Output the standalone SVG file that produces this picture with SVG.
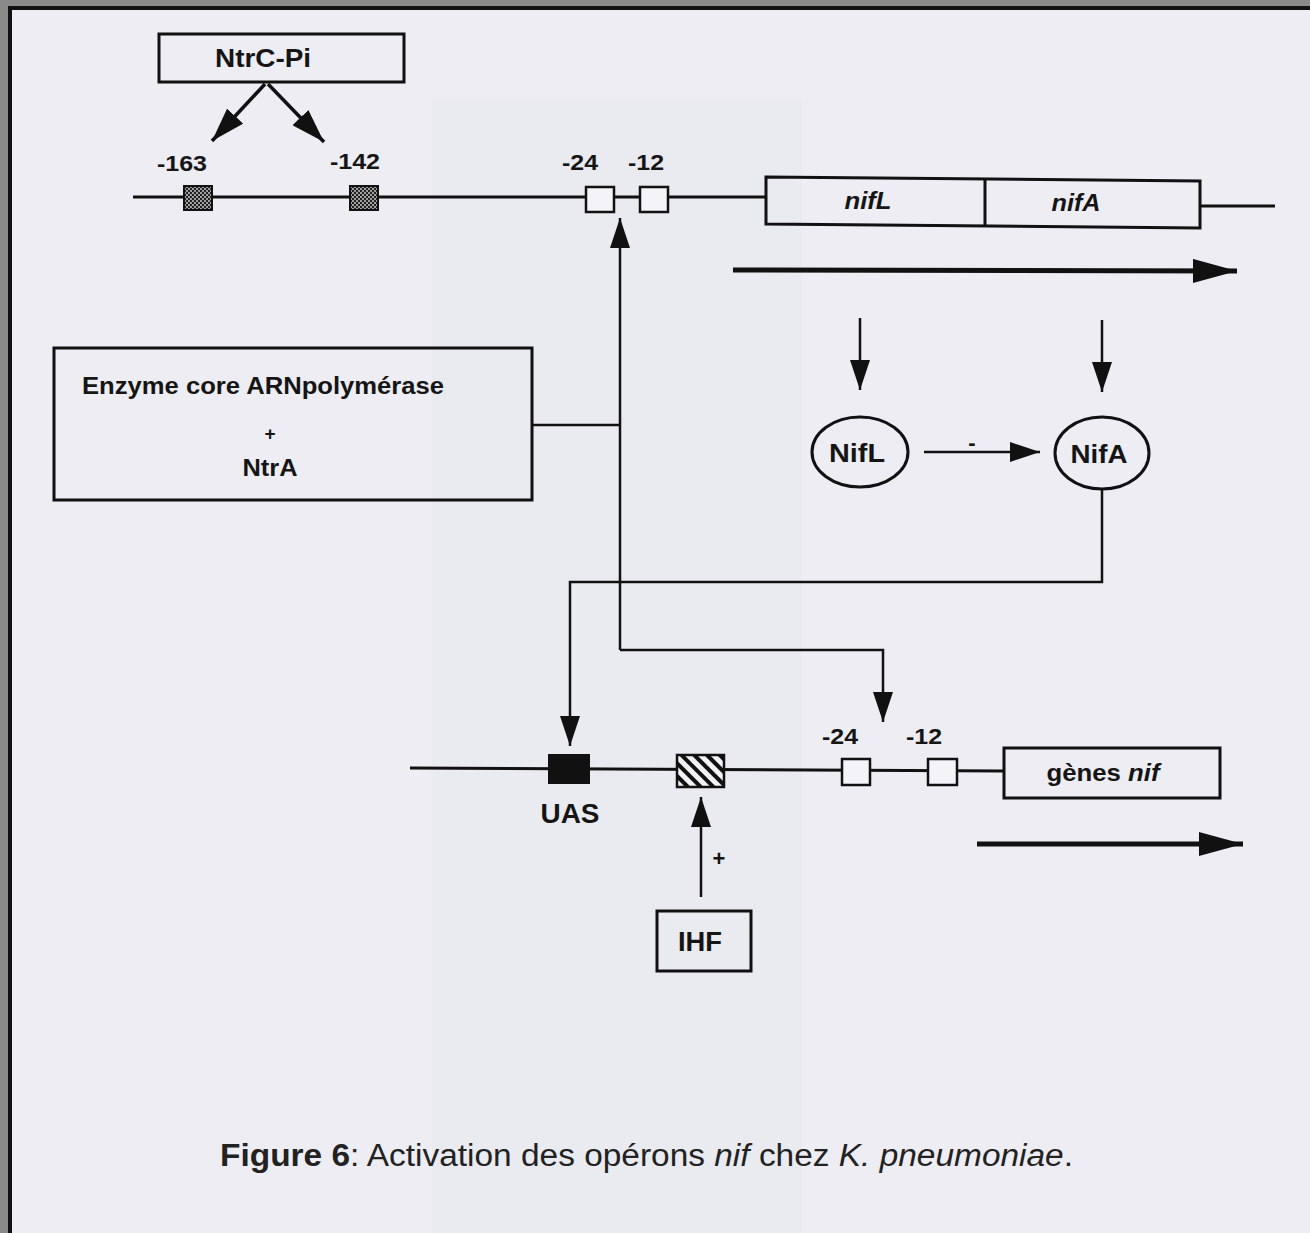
<svg xmlns="http://www.w3.org/2000/svg" width="1310" height="1233" viewBox="0 0 1310 1233">
<defs>
<marker id="ahs" viewBox="0 0 30 20" refX="30" refY="10" markerWidth="30" markerHeight="20" markerUnits="userSpaceOnUse" orient="auto">
<path d="M0,0 L30,10 L0,20 z" fill="#111"/>
</marker>
<marker id="ahm" viewBox="0 0 34 22" refX="34" refY="11" markerWidth="34" markerHeight="22" markerUnits="userSpaceOnUse" orient="auto">
<path d="M0,0 L34,11 L0,22 z" fill="#111"/>
</marker>
<marker id="ahb" viewBox="0 0 44 24" refX="44" refY="12" markerWidth="44" markerHeight="24" markerUnits="userSpaceOnUse" orient="auto">
<path d="M0,0 L44,12 L0,24 z" fill="#111"/>
</marker>
<pattern id="stip" width="4" height="4" patternUnits="userSpaceOnUse">
<rect width="4" height="4" fill="#222"/>
<circle cx="1" cy="1" r="0.9" fill="#ddd"/>
<circle cx="3" cy="3" r="0.9" fill="#ddd"/>
</pattern>
<pattern id="hatch" width="9" height="9" patternUnits="userSpaceOnUse" patternTransform="rotate(-45)">
<rect width="9" height="9" fill="#f2f2f6"/>
<rect x="0" y="0" width="4" height="9" fill="#111"/>
</pattern>
</defs>
<style>
.ln{stroke:#111;stroke-width:2.5;fill:none}
.thick{stroke-width:5}
.mid{stroke-width:3.5}
.dna{stroke:#111;stroke-width:3;fill:none}
.box{stroke:#111;stroke-width:3;fill:none}
.ebox{stroke:#111;stroke-width:2.5;fill:#f3f3f8}
.t{font-family:"Liberation Sans",Arial,sans-serif;font-weight:bold;fill:#151515}
.lbl{font-size:22px;text-anchor:middle}
.cap{font-family:"Liberation Sans",Arial,sans-serif;font-size:31px;fill:#222}
</style>
<rect width="1310" height="1233" fill="#8a8a8a"/>
<rect x="8" y="6" width="1302" height="1227" fill="#111"/>
<rect x="12" y="10" width="1298" height="1223" fill="#ededf3"/>
<rect x="432" y="100" width="370" height="1133" fill="#e6e6ee" opacity="0.35"/>

<g id="connectors">
<line class="ln mid" x1="265" y1="84" x2="212" y2="141" marker-end="url(#ahm)"/>
<line class="ln mid" x1="268" y1="84" x2="324" y2="142" marker-end="url(#ahm)"/>
<polyline class="ln" points="532,425 620,425"/>
<line class="ln" x1="620" y1="650" x2="620" y2="218" marker-end="url(#ahs)"/>
<polyline class="ln" points="620,650 883,650 883,722" marker-end="url(#ahs)"/>
<polyline class="ln" points="1102,488 1102,582 570,582 570,746" marker-end="url(#ahs)"/>
<line class="ln" x1="860" y1="318" x2="860" y2="390" marker-end="url(#ahs)"/>
<line class="ln" x1="1102" y1="320" x2="1102" y2="392" marker-end="url(#ahs)"/>
<line class="ln" x1="924" y1="452" x2="1040" y2="452" marker-end="url(#ahs)"/>
<line class="ln" x1="701" y1="897" x2="701" y2="797" marker-end="url(#ahs)"/>
<line class="ln thick" x1="733" y1="270" x2="1237" y2="271" marker-end="url(#ahb)"/>
<line class="ln thick" x1="977" y1="844" x2="1243" y2="844" marker-end="url(#ahb)"/>
</g>

<g id="dna-top">
<line class="dna" x1="133" y1="197" x2="766" y2="197"/>
<line class="dna" x1="1200" y1="206" x2="1275" y2="206"/>
</g>
<g id="site-163">
<rect x="184" y="186" width="28" height="24" fill="url(#stip)" stroke="#111" stroke-width="2"/>
<text class="t lbl" x="182" y="171" textLength="50" lengthAdjust="spacingAndGlyphs">-163</text>
</g>
<g id="site-142">
<rect x="350" y="186" width="28" height="24" fill="url(#stip)" stroke="#111" stroke-width="2"/>
<text class="t lbl" x="355" y="169" textLength="50" lengthAdjust="spacingAndGlyphs">-142</text>
</g>
<g id="site-24-top">
<rect class="ebox" x="586" y="187" width="28" height="25"/>
<text class="t lbl" x="580" y="170" textLength="36" lengthAdjust="spacingAndGlyphs">-24</text>
</g>
<g id="site-12-top">
<rect class="ebox" x="640" y="187" width="28" height="25"/>
<text class="t lbl" x="646" y="170" textLength="36" lengthAdjust="spacingAndGlyphs">-12</text>
</g>
<g id="nifLA">
<polygon class="box" points="766,177 1200,181 1200,228 766,224"/>
<line class="box" x1="985" y1="179" x2="985" y2="226"/>
<text class="t" x="868" y="209" font-size="23" font-style="italic" text-anchor="middle" textLength="47" lengthAdjust="spacingAndGlyphs">nifL</text>
<text class="t" x="1076" y="211" font-size="23" font-style="italic" text-anchor="middle" textLength="49" lengthAdjust="spacingAndGlyphs">nifA</text>
</g>
<g id="NtrC-Pi">
<rect class="box" x="159" y="34" width="245" height="48"/>
<text class="t" x="263" y="67" font-size="25" text-anchor="middle" textLength="96" lengthAdjust="spacingAndGlyphs">NtrC-Pi</text>
</g>
<g id="enzyme">
<rect class="box" x="54" y="348" width="478" height="152"/>
<text class="t" x="82" y="394" font-size="23" textLength="362" lengthAdjust="spacingAndGlyphs">Enzyme core ARNpolymérase</text>
<text class="t" x="270" y="440" font-size="19" text-anchor="middle">+</text>
<text class="t" x="270" y="476" font-size="23" text-anchor="middle" textLength="55" lengthAdjust="spacingAndGlyphs">NtrA</text>
</g>
<g id="NifL">
<ellipse class="box" cx="860" cy="452" rx="48" ry="35"/>
<text class="t" x="857" y="462" font-size="25" text-anchor="middle" textLength="56" lengthAdjust="spacingAndGlyphs">NifL</text>
</g>
<g id="NifA">
<ellipse class="box" cx="1102" cy="453" rx="47" ry="36"/>
<text class="t" x="1099" y="463" font-size="25" text-anchor="middle" textLength="57" lengthAdjust="spacingAndGlyphs">NifA</text>
</g>
<text class="t" x="972" y="450" font-size="22" text-anchor="middle">-</text>

<g id="dna-bottom">
<line class="dna" x1="410" y1="768" x2="1004" y2="771"/>
</g>
<g id="UAS">
<rect x="548" y="754" width="42" height="30" fill="#111"/>
<text class="t" x="570" y="823" font-size="27" text-anchor="middle" textLength="59" lengthAdjust="spacingAndGlyphs">UAS</text>
</g>
<g id="IHF-site">
<rect x="677" y="755" width="47" height="32" fill="url(#hatch)" stroke="#111" stroke-width="2.5"/>
</g>
<g id="site-24-bottom">
<rect class="ebox" x="842" y="759" width="28" height="26"/>
<text class="t lbl" x="840" y="744" textLength="36" lengthAdjust="spacingAndGlyphs">-24</text>
</g>
<g id="site-12-bottom">
<rect class="ebox" x="928" y="759" width="29" height="26"/>
<text class="t lbl" x="924" y="744" textLength="36" lengthAdjust="spacingAndGlyphs">-12</text>
</g>
<g id="genes-nif">
<rect class="box" x="1004" y="748" width="216" height="50"/>
<text class="t" x="1103" y="781" font-size="23" text-anchor="middle" textLength="113" lengthAdjust="spacingAndGlyphs">gènes <tspan font-style="italic">nif</tspan></text>
</g>
<text class="t" x="719" y="866" font-size="22" text-anchor="middle">+</text>
<g id="IHF">
<rect class="box" x="657" y="911" width="94" height="60"/>
<text class="t" x="700" y="951" font-size="27" text-anchor="middle" textLength="44" lengthAdjust="spacingAndGlyphs">IHF</text>
</g>
<text class="cap" x="220" y="1166" textLength="853" lengthAdjust="spacingAndGlyphs"><tspan font-weight="bold">Figure 6</tspan>: Activation des opérons <tspan font-style="italic">nif</tspan> chez <tspan font-style="italic">K. pneumoniae</tspan>.</text>
</svg>
